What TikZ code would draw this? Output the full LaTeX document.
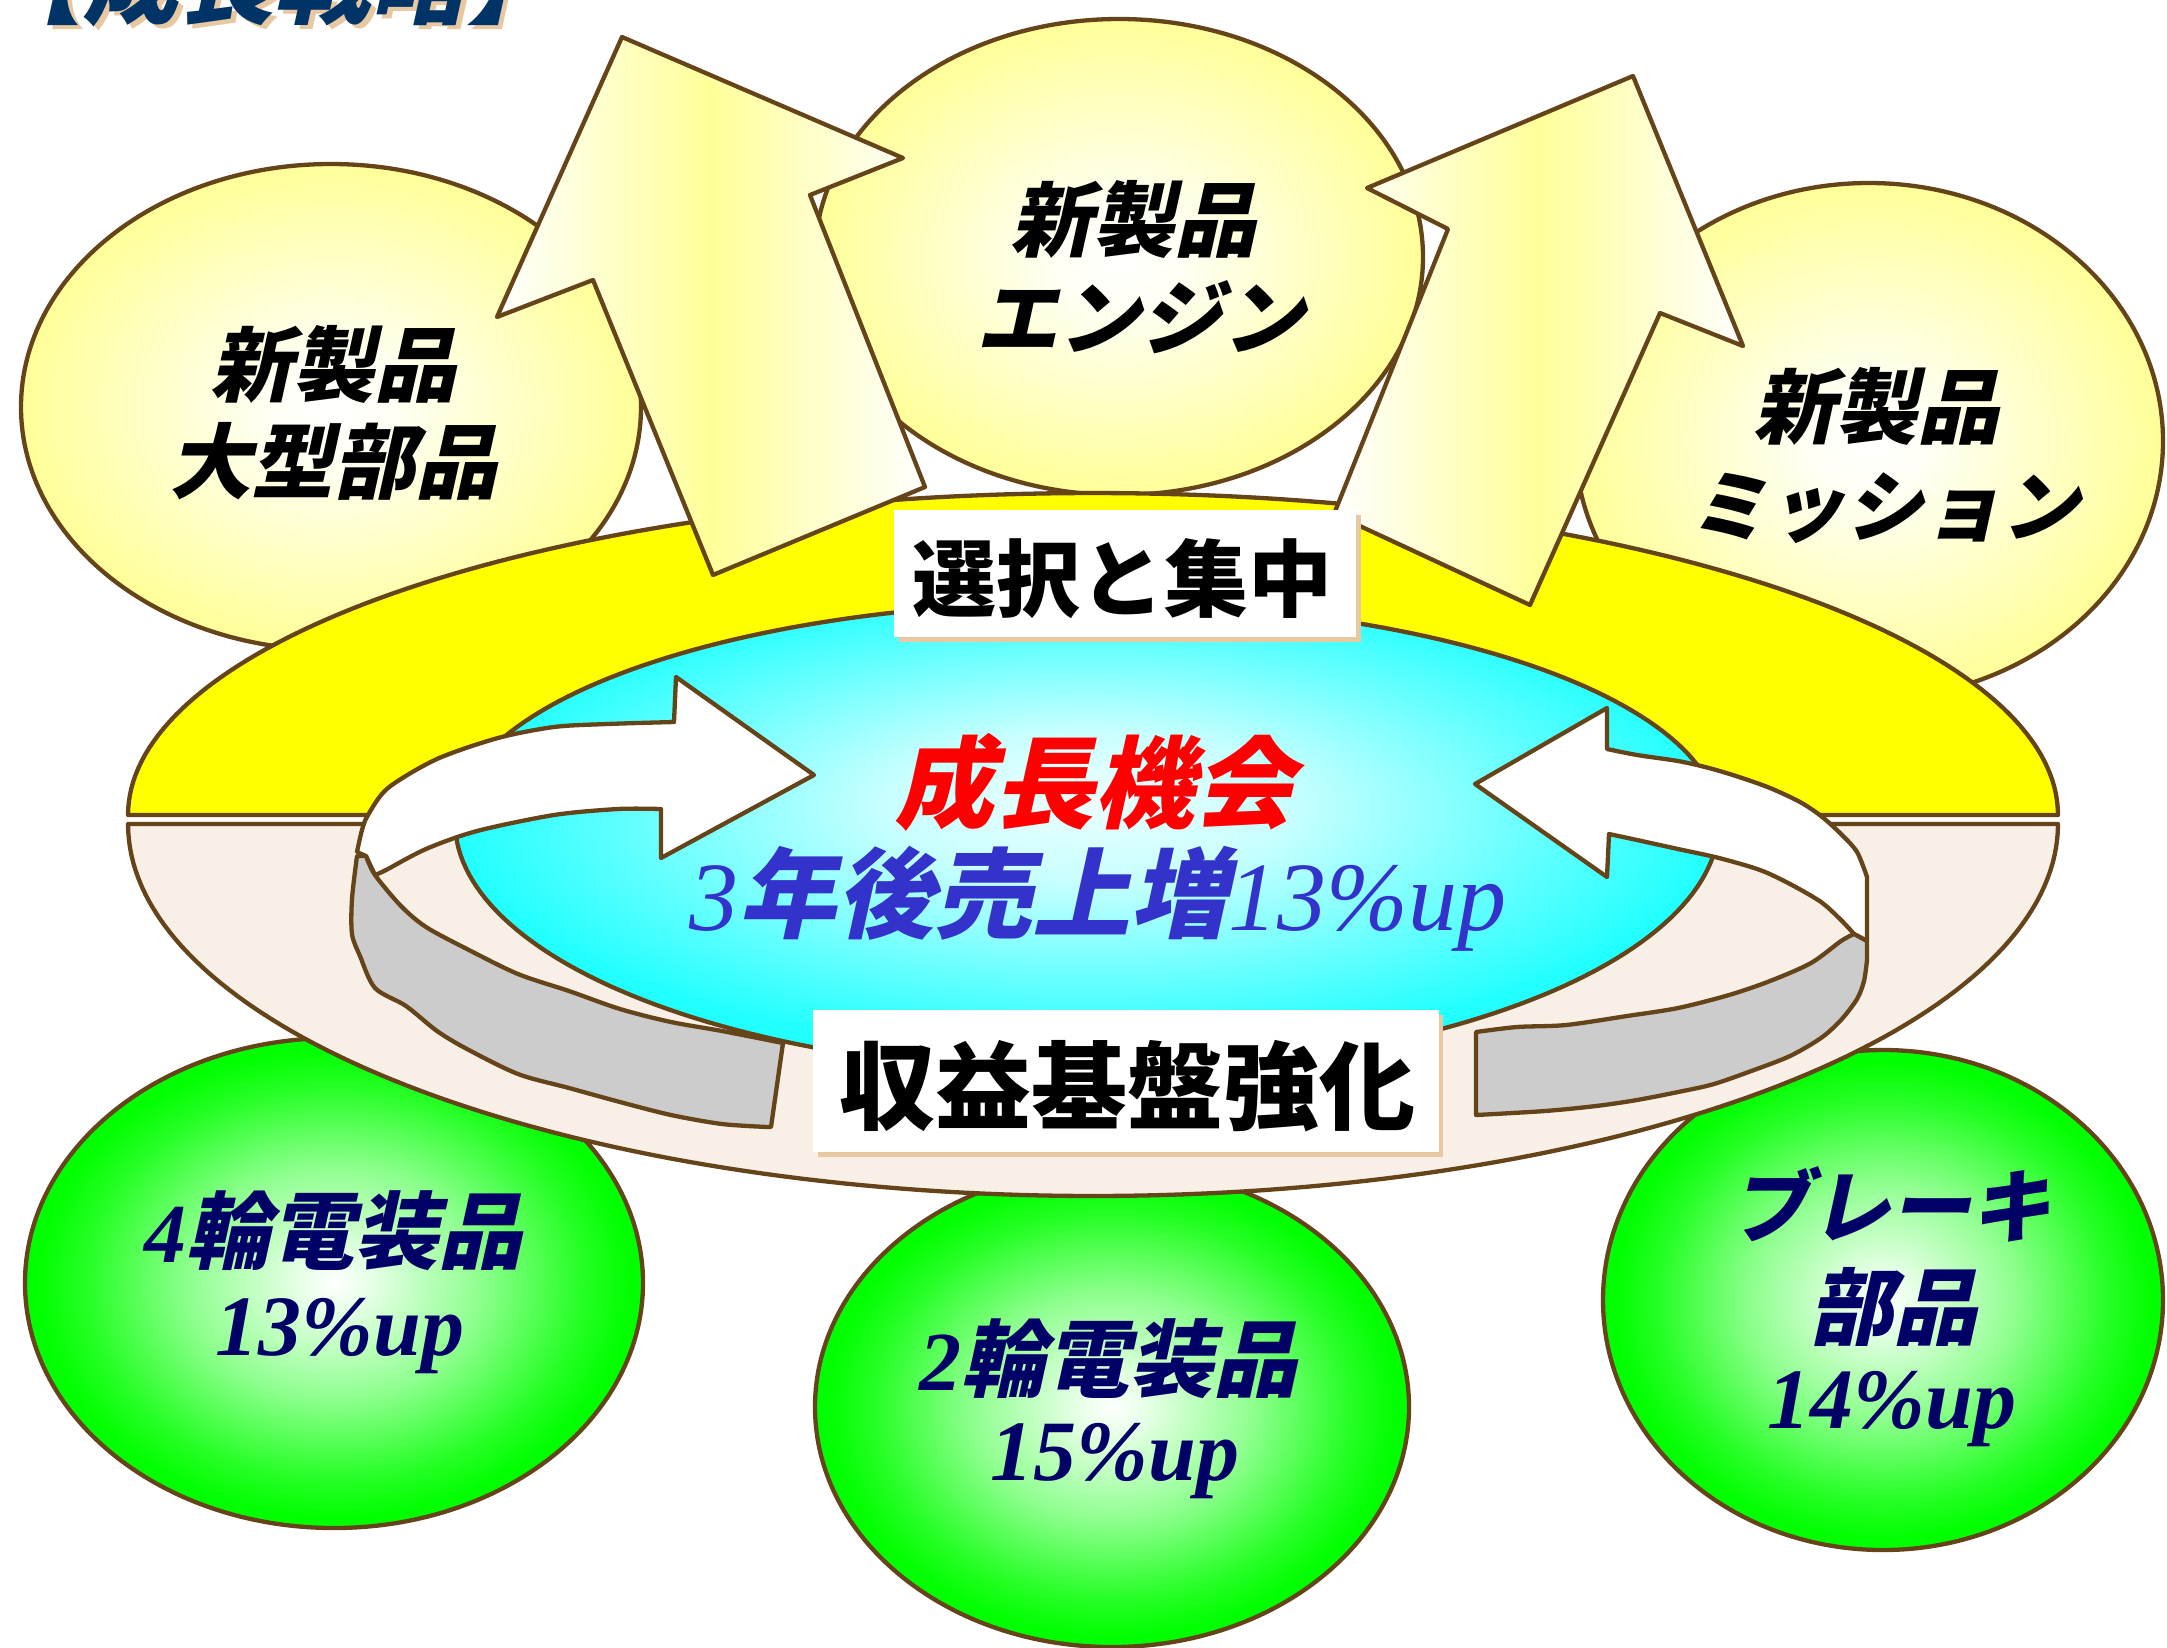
\documentclass[tikz,border=0pt]{standalone}
\usepackage{fontspec}
\newfontfamily\jp{Noto Sans CJK JP}
\newfontfamily\jpsl{Noto Sans CJK JP}[FakeSlant=0.22]
\newfontfamily\lser{Liberation Serif}
\newcommand\mysz[1]{\fontsize{#1pt}{#1pt}\selectfont}
\definecolor{brn}{RGB}{102,68,26}
\definecolor{yyc}{HTML}{FFFF99}
\definecolor{ringy}{HTML}{FFFF00}
\definecolor{beigec}{HTML}{F8F0E6}
\definecolor{gryc}{HTML}{CCCCCC}
\definecolor{cync}{HTML}{22FFFF}
\definecolor{grnc}{HTML}{00FF00}
\definecolor{navyc}{HTML}{000066}
\definecolor{bluc}{HTML}{3333CC}
\definecolor{tanc}{HTML}{E8C8A0}
\definecolor{ttlc}{HTML}{003366}
\pgfdeclareradialshading{yballsh}{\pgfpoint{0bp}{0bp}}{color(0bp)=(white); color(5bp)=(white!90!yyc); color(16bp)=(white!40!yyc); color(25bp)=(yyc); color(50bp)=(yyc)}
\pgfdeclareradialshading{gballsh}{\pgfpoint{0bp}{0bp}}{color(0bp)=(white); color(3bp)=(white!90!grnc); color(12bp)=(white!55!grnc); color(20bp)=(white!15!grnc); color(24bp)=(grnc); color(50bp)=(grnc)}
\pgfdeclareradialshading{cballsh}{\pgfpoint{0bp}{4bp}}{color(0bp)=(white!92!cync); color(8bp)=(white!75!cync); color(18bp)=(white!30!cync); color(25bp)=(cync); color(50bp)=(cync)}
\tikzset{
  ol/.style={draw=brn, line width=4.3pt, line join=round},
  yellowball/.style={ol, shade, shading=yballsh},
  greenball/.style={ol, shade, shading=gballsh},
  bigarrow/.style={ol, left color=white, right color=white, middle color=yyc},
  jtxt/.style={anchor=base, inner sep=0pt, text=black, font=\jpsl\bfseries\mysz{82}},
  gtxt/.style={anchor=base, inner sep=0pt, text=navyc, font=\jpsl\bfseries\mysz{84}},
  ltxt/.style={anchor=base, inner sep=0pt, text=navyc, font=\lser\bfseries\itshape\mysz{86}},
  lbl/.style={anchor=center, inner sep=0pt, text=black, font=\jp\bfseries},
}
\begin{document}
\begin{tikzpicture}[x=1pt,y=-1pt]
\useasboundingbox (0,0) rectangle (2167,1647);
\fill[white] (0,0) rectangle (2167,1647);

% title (cut at top, as in the reference)
\node[anchor=base, inner sep=0pt, text=tanc, font=\jpsl\bfseries\mysz{96}] (titlesh) at (279,20) {【成長戦略】};
\node[anchor=base, inner sep=0pt, text=ttlc, font=\jpsl\bfseries\mysz{96}] (title) at (275,16) {【成長戦略】};

% yellow ellipses
\path[yellowball] (331,407) ellipse [x radius=310pt, y radius=243pt];
\path[yellowball] (1119,257) ellipse [x radius=304pt, y radius=238pt];
\path[yellowball] (1869,441) ellipse [x radius=294pt, y radius=258pt];

% green ellipses
\path[greenball] (334,1283) ellipse [x radius=309pt, y radius=245pt];
\path[greenball] (1112,1407) ellipse [x radius=297pt, y radius=240pt];
\path[greenball] (1883,1300) ellipse [x radius=280pt, y radius=250pt];

% ring
\path[ol, fill=ringy] plot[domain=180:360, samples=150] ({1093+965*cos(\x)},{815+322*sin(\x)}) -- cycle;
\path[ol, fill=beigec] plot[domain=0:180, samples=150] ({1093+965*cos(\x)},{824+372*sin(\x)}) -- cycle;

% big arrows
\path[bigarrow] (622,37) -- (903,158) -- (810,195) -- (925,487) -- (713,575) -- (593,280) -- (497,317) -- cycle;
\path[bigarrow] (1633,76) -- (1743,346) -- (1660,313) -- (1530,605) -- (1334,514) -- (1448,229) -- (1367,188) -- cycle;

% cyan center
\path[ol, shade, shading=cballsh] plot[domain=0:180, samples=120] ({1087+632*cos(\x)},{822+250*sin(\x)}) -- plot[domain=180:360, samples=120] ({1087+632*cos(\x)},{822+220*sin(\x)}) -- cycle;

% left white circular arrow
\path[ol, fill=white] plot[smooth] coordinates {(357,852) (362,830) (368,815) (388,788) (437,759) (498,738) (554,727) (607,724) (674,722)} -- (676,677) -- (814,775) -- (661,858) -- (661,809) -- plot[smooth] coordinates {(661,809) (618,809) (554,815) (477,831) (426,849) (386,870) (375,875)} -- (366,856) -- cycle;
\path[ol, fill=gryc] plot[smooth] coordinates {(366,856) (375,875) (401,906) (426,927) (467,949) (518,974) (569,991) (620,1009) (671,1022) (722,1031) (783,1043)} -- (771,1127) -- plot[smooth] coordinates {(768,1127) (722,1124) (671,1115) (620,1102) (569,1088) (518,1074) (467,1049) (437,1031) (406,1006) (375,988) (360,956) (352,934) (352,899) (357,856)} -- cycle;

% right white circular arrow
\path[ol, fill=white] (1475,784) -- (1607,708) -- (1607,749) -- plot[smooth] coordinates {(1607,749) (1637,755) (1678,761) (1709,768) (1739,777) (1770,788) (1800,802) (1821,816) (1841,834) (1857,852) (1867,877)} -- (1867,941) -- plot[smooth] coordinates {(1854,934) (1841,920) (1821,902) (1790,884) (1760,870) (1719,858) (1678,849) (1637,840) (1609,834)} -- (1607,877) -- cycle;
\path[ol, fill=gryc] plot[smooth] coordinates {(1854,934) (1841,941) (1811,963) (1770,981) (1729,995) (1678,1008) (1627,1016) (1566,1025) (1517,1027) (1476,1032)} -- (1476,1115) -- plot[smooth] coordinates {(1476,1115) (1545,1111) (1596,1106) (1637,1100) (1683,1091) (1714,1084) (1754,1070) (1790,1056) (1821,1038) (1841,1020) (1857,999) (1864,981) (1867,960)} -- (1867,941) -- cycle;

% label boxes
\fill[tanc] (899,515) rectangle (1361,642);
\fill[white] (894,510) rectangle (1356,637);
\node[lbl, font=\jp\bfseries\mysz{84}] (sel) at (1122,579) {選択と集中};
\fill[tanc] (818,1015) rectangle (1443,1157);
\fill[white] (813,1010) rectangle (1439,1152);
\node[lbl, font=\jp\bfseries\mysz{96}] (shu) at (1127,1086) {収益基盤強化};

% yellow ellipse texts
\node[jtxt] (l1) at (333,395) {新製品};
\node[jtxt] (l2) at (333,492) {大型部品};
\node[jtxt] (c1) at (1133,250) {新製品};
\node[jtxt] (c2) at (1140,348) {エンジン};
\node[jtxt] (r1) at (1876,437) {新製品};
\node[jtxt, font=\jpsl\bfseries\mysz{78}] (r2) at (1884,535) {ミッション};

% center texts
\node[anchor=base, inner sep=0pt, text=red, font=\jpsl\bfseries\mysz{100}] (seicho) at (1094,820) {成長機会};
\node[anchor=base, inner sep=0pt, text=bluc, font=\mysz{98}] (uriage) at (1098,930) {{\lser\itshape 3}{\jpsl\bfseries 年後売上増}{\lser\itshape 13\%up}};

% green texts
\node[gtxt] (g1a) at (333,1262) {{\lser\bfseries\itshape 4}輪電装品};
\node[ltxt] (g1b) at (340,1355) {13\%up};
\node[gtxt] (g2a) at (1108,1390) {{\lser\bfseries\itshape 2}輪電装品};
\node[ltxt] (g2b) at (1115,1480) {15\%up};
\node[gtxt, font=\jpsl\bfseries\mysz{80}] (g3a) at (1890,1236) {ブレーキ};
\node[gtxt] (g3b) at (1893,1338) {部品};
\node[ltxt] (g3c) at (1892,1428) {14\%up};
\end{tikzpicture}
\end{document}
